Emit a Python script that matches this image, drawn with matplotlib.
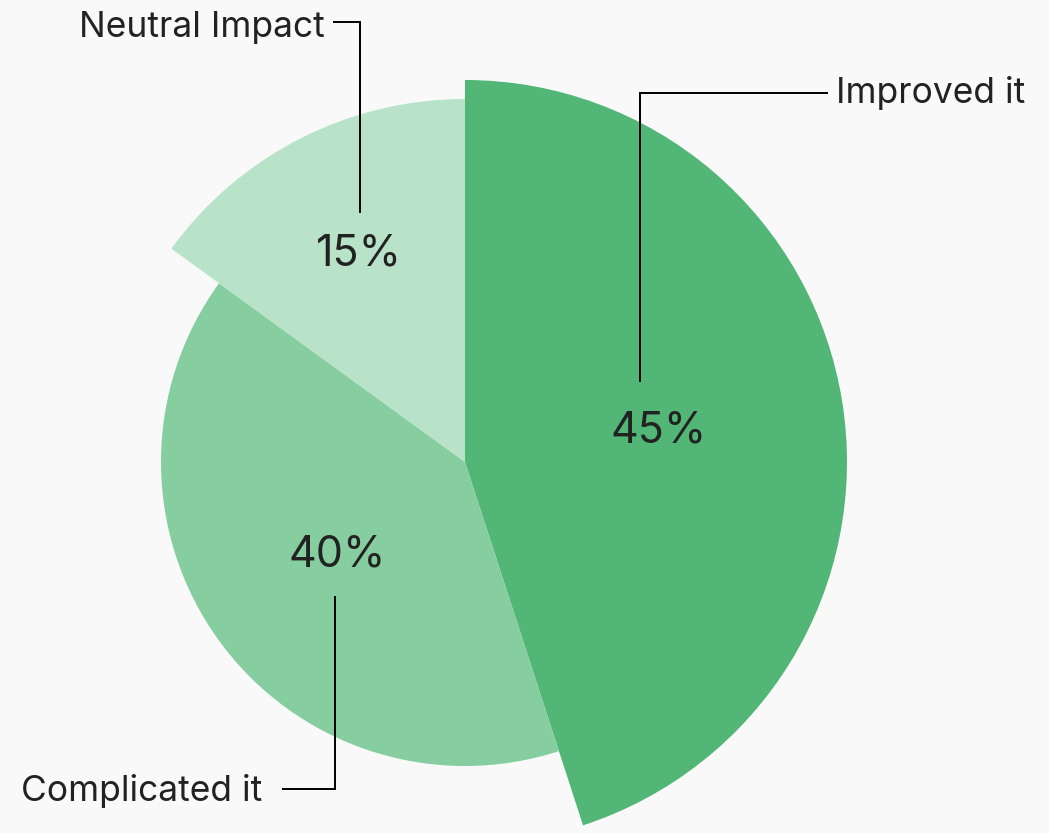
import numpy as np
import matplotlib.pyplot as plt
from matplotlib.patches import Wedge

plt.rcParams["font.family"] = ["Inter", "DejaVu Sans"]

# slice data, clockwise from 12 o'clock
categories = ["Improved it", "Complicated it", "Neutral Impact"]
shares = [45, 40, 15]
colors = ["#51b676", "#86cda0", "#b8e3c9"]

# per-slice layout (pixels): outer radius and label distance from centre
radii = [382, 304, 363]
label_r = [196, 158, 234]
# leader: (line x, y next to label, elbow y, end x of horizontal, text x, text baseline, align)
leaders = [
    (640, 382, 93, 828, 836, 103, "left"),
    (335, 596, 789, 282, 262, 801, "right"),
    (360, 213, 22, 333, 325, 37, "right"),
]

W, H = 1049, 833
cx, cy = 465, 462
TEXT = "#222222"

fig = plt.figure(figsize=(W / 100, H / 100), dpi=100)
fig.patch.set_facecolor("#f9f9f9")
ax = fig.add_axes([0, 0, 1, 1])
ax.set_xlim(0, W)
ax.set_ylim(0, H)
ax.axis("off")


def up(y):
    # pixel rows run top-down, axes run bottom-up
    return H - y


start = 90.0
for name, val, col, r, lr, ld in zip(categories, shares, colors, radii, label_r, leaders):
    sweep = val / sum(shares) * 360.0
    t2, t1 = start, start - sweep
    ax.add_patch(Wedge((cx, up(cy)), r, t1, t2, facecolor=col, edgecolor="none"))
    mid = np.deg2rad((t1 + t2) / 2)
    lx = cx + lr * np.cos(mid)
    ly = up(cy) + lr * np.sin(mid)
    ax.text(lx, ly, f"{val}%", fontsize=31, color=TEXT, ha="center", va="center")

    x0, y0, ey, ex, tx, tb, ha = ld
    ax.plot([x0, x0, ex], [up(y0), up(ey), up(ey)], color="black", lw=1.4,
            solid_joinstyle="miter", solid_capstyle="butt")
    ax.text(tx, up(tb), name, fontsize=25.5, color=TEXT, ha=ha, va="baseline")
    start = t1

fig.savefig("out.png", dpi=100, facecolor=fig.get_facecolor())
